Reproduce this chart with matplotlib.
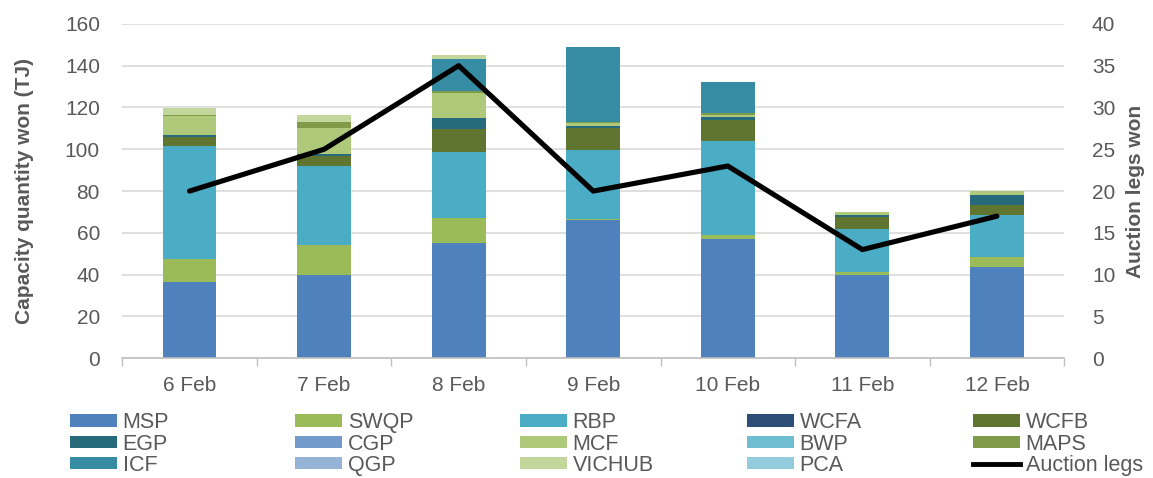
import numpy as np
import matplotlib
matplotlib.use("Agg")
from matplotlib import pyplot as plt
from matplotlib.patches import Patch
from matplotlib.lines import Line2D

plt.rcParams['font.family'] = ['Liberation Sans', 'DejaVu Sans']

days = ["6 Feb", "7 Feb", "8 Feb", "9 Feb", "10 Feb", "11 Feb", "12 Feb"]

# capacity won per facility (TJ), stacked in this order
msp = [36.5, 40, 55, 66, 57, 40, 43.5]
swqp = [11, 14, 12, 0.7, 2, 1.5, 5]
rbp = [54, 38, 31.5, 33, 45, 20.2, 20]
wcfa = [0, 0, 0, 0, 0, 0, 0]
wcfb = [4.3, 5, 11, 10.5, 10, 6, 4.7]
egp = [1, 0.7, 5.5, 1, 1.3, 1, 4.8]
cgp = [0, 0, 0, 0, 0, 0, 0]
mcf = [9, 12.5, 12, 1.2, 1.2, 1.3, 2]
bwp = [0, 0, 0, 0, 0, 0, 0]
maps = [0.7, 3, 0.7, 0.8, 0.7, 0, 0]
icf = [0, 0, 15.3, 35.6, 15, 0, 0]
qgp = [0, 0, 0, 0, 0, 0, 0]
vichub = [3.4, 3.2, 2, 0, 0, 0, 0]
pca = [0, 0, 0, 0, 0, 0, 0]

auction_legs = [20, 25, 35, 20, 23, 13, 17]

series = [
    ("MSP", msp, "#4F81BD"),
    ("SWQP", swqp, "#9BBB59"),
    ("RBP", rbp, "#4BACC6"),
    ("WCFA", wcfa, "#2C4D75"),
    ("WCFB", wcfb, "#5F7530"),
    ("EGP", egp, "#276A7C"),
    ("CGP", cgp, "#729ACA"),
    ("MCF", mcf, "#AFC97A"),
    ("BWP", bwp, "#6FBDD1"),
    ("MAPS", maps, "#7F9A48"),
    ("ICF", icf, "#358CA3"),
    ("QGP", qgp, "#95B3D7"),
    ("VICHUB", vichub, "#C3D69B"),
    ("PCA", pca, "#93CDDD"),
]

grey = "#595959"

fig = plt.figure(figsize=(11.53, 4.78), dpi=100)
ax = fig.add_axes([0.106, 0.2505, 0.817, 0.6995])
x = np.arange(len(days))

bottom = np.zeros(len(days))
handles = []
for name, vals, col in series:
    vals = np.array(vals, dtype=float)
    ax.bar(x, vals, width=0.40, bottom=bottom, color=col, zorder=2)
    bottom += vals
    handles.append(Patch(facecolor=col, label=name))

ax.set_ylim(0, 160)
ax.set_yticks(np.arange(0, 161, 20))
ax.set_xlim(-0.5, len(days) - 0.5)
ax.set_xticks(x)
ax.set_xticklabels(days)
ax.set_xticks(np.arange(-0.5, len(days)), minor=True)
ax.tick_params(axis="x", which="major", length=0, pad=13, labelsize=15, colors=grey)
ax.tick_params(axis="x", which="minor", length=6, width=1, color="#BFBFBF")
ax.tick_params(axis="y", length=0, pad=16, labelsize=15, colors=grey)
ax.grid(axis="y", color="#D9D9D9", linewidth=1.2, zorder=0)
ax.set_axisbelow(True)
for s in ["top", "left", "right"]:
    ax.spines[s].set_visible(False)
ax.spines["bottom"].set_color("#BFBFBF")
ax.spines["bottom"].set_linewidth(1.2)
ax.set_ylabel("Capacity quantity won (TJ)", fontsize=15, fontweight="bold", color=grey, labelpad=22)

ax2 = ax.twinx()
ax2.plot(x, auction_legs, color="black", linewidth=3.7, solid_capstyle="round", zorder=5)
ax2.set_ylim(0, 40)
ax2.set_yticks(np.arange(0, 41, 5))
ax2.tick_params(axis="y", length=0, pad=20, labelsize=15, colors=grey)
for s in ["top", "left", "right", "bottom"]:
    ax2.spines[s].set_visible(False)
ax2.set_ylabel("Auction legs won", fontsize=15, fontweight="bold", color=grey, labelpad=8)

handles.append(Line2D([], [], color="black", linewidth=3.5, label="Auction legs"))

# five legend columns at fixed positions, rows read left to right
col_x = [70, 295, 520, 747, 973]
for c, px in enumerate(col_x):
    hs = handles[c::5]
    leg = fig.legend(handles=hs, loc="center left",
                     bbox_to_anchor=(px / 1153, 1 - 444 / 478),
                     frameon=False, fontsize=15.5, handlelength=2.2, handleheight=0.5,
                     handletextpad=0.25, labelspacing=0.02, borderaxespad=0, borderpad=0)
    for t in leg.get_texts():
        t.set_color(grey)

fig.savefig("out.png", dpi=100)
